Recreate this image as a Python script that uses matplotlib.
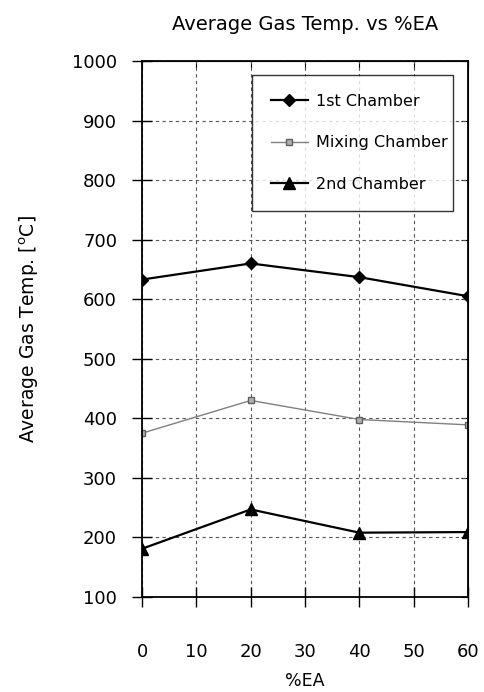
import matplotlib.pyplot as plt

ea = [0, 20, 40, 60]
first_chamber = [633, 660, 637, 605]
mixing_chamber = [375, 430, 398, 389]
second_chamber = [181, 247, 208, 209]

fig = plt.figure(figsize=(4.84, 6.92), dpi=100)
ax = fig.add_axes([0.2934, 0.1373, 0.6736, 0.7746])

ax.plot(ea, first_chamber, color='black', lw=1.6, marker='D', ms=6, label='1st Chamber')
ax.plot(ea, mixing_chamber, color='#808080', lw=1.0, marker='s', ms=5,
        mfc='#b0b0b0', mec='#606060', label='Mixing Chamber')
ax.plot(ea, second_chamber, color='black', lw=1.6, marker='^', ms=8, label='2nd Chamber')

ax.set_xlim(0, 60)
ax.set_ylim(100, 1000)
ax.set_xticks(range(0, 61, 10))
ax.set_yticks(range(100, 1001, 100))
ax.grid(True, color='#555555', ls=(0, (3, 3)), lw=0.8)

for s in ax.spines.values():
    s.set_linewidth(1.3)
ax.tick_params(axis='both', direction='inout', length=14, width=1, labelsize=13)
ax.tick_params(axis='x', pad=26)
ax.tick_params(axis='y', pad=11)

# inward ticks on top and right
top = ax.secondary_xaxis('top')
top.set_xticks(range(0, 61, 10))
top.tick_params(direction='in', length=5, labeltop=False)
right = ax.secondary_yaxis('right')
right.set_yticks(range(100, 1001, 100))
right.tick_params(direction='in', length=5, labelright=False)

ax.set_xlabel('%EA', fontsize=12.5)
ax.xaxis.set_label_coords(0.5, -0.14)
ax.set_ylabel('Average Gas Temp. [$^{\\rm o}$C]', fontsize=13.5)
ax.yaxis.set_label_coords(-0.31, 0.5)
ax.set_title('Average Gas Temp. vs %EA', fontsize=14, pad=22)

leg = ax.legend(loc='upper left', bbox_to_anchor=(0.337, 0.974, 0.617, 0.0), mode='expand',
                frameon=True, fancybox=False, edgecolor='black', fontsize=11.5,
                labelspacing=1.65, borderpad=1.2, handlelength=2.3, handletextpad=0.5,
                borderaxespad=0.0)
leg.get_frame().set_linewidth(1.0)

plt.savefig('out.png', dpi=100)
